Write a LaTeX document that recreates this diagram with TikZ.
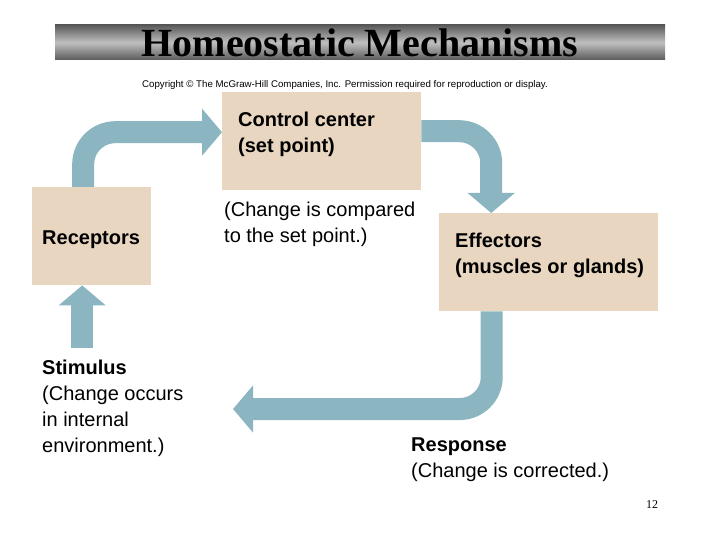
\documentclass[tikz,border=0pt]{standalone}
\usepackage{fontspec}
\setmainfont{Liberation Serif}
\newfontfamily\arialfont{Liberation Sans}
\usetikzlibrary{arrows.meta}

\definecolor{boxtan}{RGB}{232,214,193}
\definecolor{arrowblue}{RGB}{139,181,192}

\begin{document}
\begin{tikzpicture}[x=1pt, y=-1pt,
    stage/.style={fill=boxtan, anchor=north west, inner sep=0pt},
    label/.style={anchor=north west, inner sep=0pt, align=left,
      font=\arialfont\fontsize{20}{26}\selectfont},
    flow/.style={draw=arrowblue, line width=22pt, rounded corners=32pt,
      -{Triangle[length=20pt, width=46pt]}}]

  \useasboundingbox (0,0) rectangle (720,540);

  % title bar
  \node[minimum width=610pt, minimum height=35pt, inner sep=0pt,
        top color=black!65, bottom color=black!65, middle color=black!25,
        font=\bfseries\fontsize{40}{40}\selectfont]
        (title) at (360,42.5) {Homeostatic Mechanisms};
  \node[font=\arialfont\fontsize{9.7}{11}\selectfont] (copy) at (345,85)
        {Copyright \textcopyright{} The McGraw-Hill Companies, Inc. Permission required for reproduction or display.};

  % boxes
  \node[stage, minimum width=199pt, minimum height=98pt] (ctrl) at (222,92) {};
  \node[stage, minimum width=119pt, minimum height=98pt] (rec)  at (32,187) {};
  \node[stage, minimum width=219pt, minimum height=98pt] (eff)  at (439,213) {};

  \node[label, font=\arialfont\bfseries\fontsize{20}{26}\selectfont] (ctrltxt) at (238,112)
        {Control center\\(set point)};
  \node[label] (cmp) at (224,202) {(Change is compared\\to the set point.)};
  \node[label, font=\arialfont\bfseries\fontsize{20}{26}\selectfont] (rectxt) at (42,231)
        {Receptors};
  \node[label, font=\arialfont\bfseries\fontsize{20}{26}\selectfont] (efftxt) at (455,233)
        {Effectors\\(muscles or glands)};
  \node[label] (stim) at (42,360)
        {\textbf{Stimulus}\\(Change occurs\\in internal\\environment.)};
  \node[label] (resp) at (411,438)
        {\textbf{Response}\\(Change is corrected.)};

  \node[font=\fontsize{12}{14}\selectfont] (page) at (652,505) {12};

  % loop
  \coordinate (back) at (233,409);
  \draw[flow] ([xshift=-8.5pt]rec.north) |- ([yshift=9pt]ctrl.west);
  \draw[flow] ([yshift=10pt]ctrl.east) -| ([xshift=-57.5pt]eff.north);
  \draw[flow] ([xshift=-57pt]eff.south) |- (back);
  \draw[flow] ([xshift=-9.5pt, yshift=12pt]rec.south |- stim.north) -- ([xshift=-9.5pt]rec.south);

\end{tikzpicture}
\end{document}
